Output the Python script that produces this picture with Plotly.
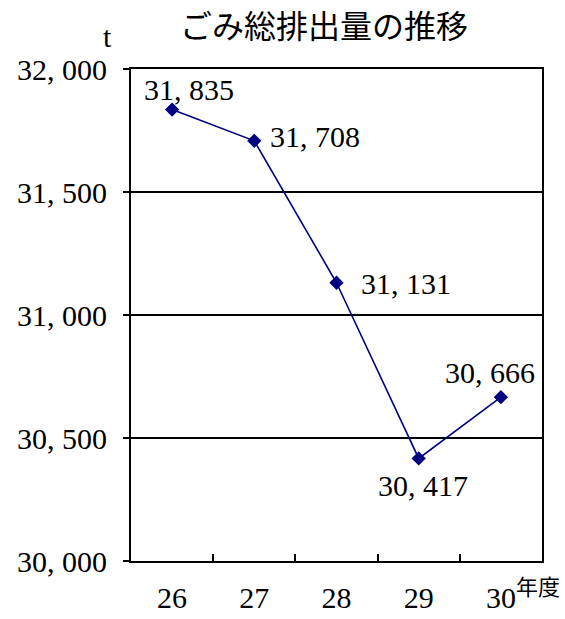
import plotly.graph_objects as go

years = ["26", "27", "28", "29", "30"]
totals = [31835, 31708, 31131, 30417, 30666]
value_labels = ["31, 835", "31, 708", "31, 131", "30, 417", "30, 666"]
y_tick_vals = [30000, 30500, 31000, 31500, 32000]
y_tick_text = ["30, 000", "30, 500", "31, 000", "31, 500", "32, 000"]

SERIF = "Liberation Serif, DejaVu Serif, Noto Sans CJK JP, serif"
JP = "Noto Sans CJK JP, serif"
NUM_SIZE = 30

# label placement styles (per point)
label_style = [
    dict(xanchor="center", xshift=17, yshift=20),
    dict(xanchor="left", xshift=14, yshift=4),
    dict(xanchor="left", xshift=22, yshift=-1),
    dict(xanchor="center", xshift=4, yshift=-27),
    dict(xanchor="center", xshift=-11, yshift=25),
]

fig = go.Figure()
fig.add_trace(go.Scatter(
    x=years, y=totals, mode="lines+markers",
    line=dict(color="#000080", width=1.6),
    marker=dict(symbol="diamond", size=11, color="#000080"),
    hoverinfo="skip", showlegend=False,
))

annotations = []
for i, (yv, txt, st) in enumerate(zip(totals, value_labels, label_style)):
    annotations.append(dict(
        x=i, y=yv, xref="x", yref="y", text=txt, showarrow=False,
        font=dict(family=SERIF, size=NUM_SIZE, color="black"),
        yanchor="middle", **st))

annotations.append(dict(x=-0.058, y=1.066, xref="paper", yref="paper", text="t",
                        showarrow=False, xanchor="center", yanchor="middle",
                        font=dict(family=SERIF, size=NUM_SIZE, color="black")))
annotations.append(dict(x=(538 - 131) / 411, y=(561 - 585) / 492, xref="paper", yref="paper",
                        text="年度", showarrow=False, xanchor="center", yanchor="middle",
                        font=dict(family=JP, size=22, color="black")))

fig.update_layout(
    width=565, height=619,
    margin=dict(l=131, r=23, t=69, b=58, autoexpand=False),
    paper_bgcolor="white", plot_bgcolor="white",
    title=dict(text="ごみ総排出量の推移", x=324/565, xref="container", xanchor="center",
               y=1 - 27/619, yref="container", yanchor="middle",
               font=dict(family=JP, size=32, color="black")),
    annotations=annotations,
    xaxis=dict(
        type="category", range=[-0.5, 4.5], automargin=False,
        showline=True, linecolor="black", linewidth=2, mirror=True,
        showgrid=False, ticks="inside", tickson="boundaries", ticklen=7,
        tickcolor="black", tickwidth=1.5,
        tickfont=dict(family=SERIF, size=NUM_SIZE, color="black"),
        ticklabelstandoff=9,
    ),
    yaxis=dict(
        range=[30000, 32000], tickvals=y_tick_vals, ticktext=y_tick_text,
        automargin=False,
        showline=True, linecolor="black", linewidth=2, mirror=True,
        showgrid=True, gridcolor="black", gridwidth=1.5,
        ticks="outside", ticklen=6, tickcolor="black", tickwidth=1.5,
        tickfont=dict(family=SERIF, size=NUM_SIZE, color="black"),
        ticklabelstandoff=10,
        zeroline=False,
    ),
)

fig.write_html("out.html", config={"displayModeBar": False},
               post_script="document.body.style.margin='0';")
